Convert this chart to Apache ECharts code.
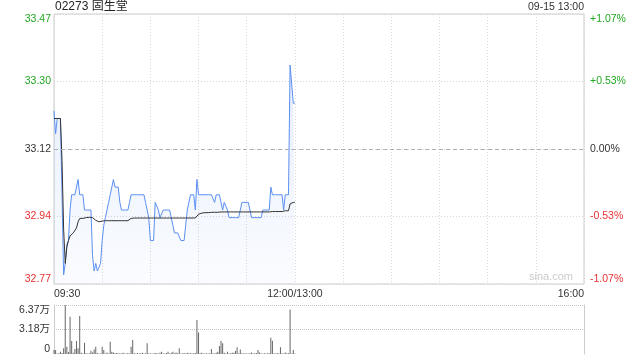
<!DOCTYPE html>
<html><head><meta charset="utf-8">
<script src="https://cdn.jsdelivr.net/npm/echarts@6/dist/echarts.min.js"></script>
<style>html,body{margin:0;padding:0;background:#fff}#c{width:640px;height:360px}</style>
</head><body><div id="c"></div>
<script>
// ---- data ----
const titleText = '02273 固生堂';
const stampText = '09-15 13:00';
const prevClose = 33.12;
const yMin = 32.766, yMax = 33.474, yStep = 0.177;
const priceLabels = ['32.77', '32.94', '33.12', '33.30', '33.47'];
const pctLabels = ['-1.07%', '-0.53%', '0.00%', '+0.53%', '+1.07%'];
const volMax = 63700;
const volLabels = ['0', '3.18万', '6.37万'];
const timeLabels = { 0: '09:30', 150: '12:00/13:00', 330: '16:00' };

// one value per minute from 09:30
const price = [
  33.22, 33.16, 33.20, 33.20, 33.20, 33.00, 32.79, 32.82, 32.87, 32.88,
  32.96, 33.00, 33.00, 33.00, 33.00, 33.04, 33.00, 33.00, 33.00, 32.96,
  32.96, 32.96, 32.96, 32.96, 32.84, 32.80, 32.82, 32.80, 32.80, 32.82,
  32.88, 32.92, 32.94, 32.96, 32.98, 33.00, 33.02, 33.04, 33.02, 33.02,
  33.02, 32.98, 32.96, 32.96, 32.96, 32.96, 32.96, 32.98, 33.00, 33.00,
  33.00, 33.00, 33.00, 33.00, 33.00, 33.00, 33.00, 32.98, 32.96, 32.94,
  32.88, 32.88, 32.88, 32.98, 32.98, 32.96, 32.94, 32.94, 32.96, 32.96,
  32.96, 32.96, 32.96, 32.96, 32.92, 32.90, 32.90, 32.90, 32.90, 32.88,
  32.88, 32.88, 32.92, 32.96, 32.98, 33.00, 33.00, 33.00, 32.96, 33.04,
  33.00, 33.00, 33.00, 33.00, 33.00, 33.00, 33.00, 33.00, 33.00, 33.00,
  32.98, 33.00, 33.00, 33.00, 32.98, 32.96, 32.98, 32.98, 32.96, 32.94,
  32.94, 32.94, 32.94, 32.94, 32.94, 32.94, 32.94, 32.98, 32.98, 32.98,
  32.98, 32.98, 32.98, 32.94, 32.94, 32.94, 32.94, 32.94, 32.94, 32.94,
  32.96, 32.96, 32.96, 32.96, 32.96, 33.02, 33.00, 33.00, 33.00, 33.00,
  33.00, 33.00, 33.00, 32.96, 33.00, 33.00, 33.00, 33.34, 33.34, 33.24,
  33.24
];
const avgPrice = [
  33.200, 33.200, 33.200, 33.200, 33.200, 33.090, 32.910, 32.820, 32.863, 32.880,
  32.892, 32.897, 32.900, 32.902, 32.913, 32.929, 32.938, 32.938, 32.938, 32.939,
  32.940, 32.941, 32.941, 32.941, 32.940, 32.938, 32.933, 32.929, 32.929, 32.930,
  32.931, 32.931, 32.932, 32.932, 32.932, 32.932, 32.932, 32.932, 32.932, 32.932,
  32.932, 32.932, 32.932, 32.932, 32.932, 32.932, 32.932, 32.935, 32.938, 32.939,
  32.939, 32.939, 32.939, 32.939, 32.939, 32.939, 32.939, 32.939, 32.939, 32.939,
  32.939, 32.939, 32.939, 32.939, 32.939, 32.939, 32.939, 32.939, 32.939, 32.939,
  32.939, 32.939, 32.939, 32.939, 32.939, 32.939, 32.939, 32.939, 32.939, 32.939,
  32.939, 32.939, 32.939, 32.939, 32.939, 32.939, 32.939, 32.939, 32.939, 32.944,
  32.949, 32.952, 32.952, 32.953, 32.953, 32.953, 32.953, 32.953, 32.954, 32.954,
  32.954, 32.954, 32.954, 32.955, 32.955, 32.955, 32.955, 32.955, 32.955, 32.955,
  32.955, 32.955, 32.955, 32.955, 32.955, 32.955, 32.955, 32.955, 32.955, 32.955,
  32.955, 32.955, 32.955, 32.955, 32.955, 32.955, 32.955, 32.955, 32.955, 32.955,
  32.955, 32.955, 32.955, 32.955, 32.955, 32.956, 32.956, 32.956, 32.956, 32.956,
  32.956, 32.956, 32.956, 32.956, 32.958, 32.958, 32.958, 32.976, 32.978, 32.980,
  32.980
];
const volume = [
  5200, 5200, 600, 900, 3000, 1200, 7400, 63700, 9500, 2500,
  48500, 16900, 1500, 6500, 16900, 7400, 49400, 1500, 800, 14700,
  900, 700, 1000, 4300, 2000, 6000, 9500, 1200, 800, 600,
  9500, 5200, 800, 2000, 700, 16000, 3000, 2000, 900, 1200,
  700, 1000, 600, 1500, 800, 700, 1200, 600, 9500, 18200,
  1000, 800, 1300, 600, 900, 1500, 700, 1100, 13900, 1000,
  700, 800, 600, 1200, 900, 700, 1500, 3000, 800, 600,
  1400, 3000, 700, 1500, 3000, 900, 2000, 1000, 7400, 800,
  600, 1200, 700, 1500, 900, 1000, 700, 1100, 1300, 44200,
  28100, 900, 1500, 800, 700, 1000, 600, 900, 6500, 1000,
  700, 1500, 3000, 10400, 16900, 13900, 1500, 800, 3000, 700,
  900, 1500, 1500, 3900, 8700, 1000, 6000, 900, 700, 1100,
  800, 600, 1000, 2000, 700, 900, 1200, 5200, 2000, 800,
  700, 1000, 600, 900, 1100, 21200, 17300, 900, 700, 1200,
  800, 8700, 1000, 700, 2000, 900, 1100, 58000, 800, 5200,
  600
];

// ---- chart ----
const FONT = 'Arial, "Liberation Sans", "Noto Sans CJK SC", sans-serif';
const GREEN = '#22a822', RED = '#e83232', DARK = '#333';
const labelColors = [RED, RED, DARK, GREEN, GREEN];

const chart = echarts.init(document.getElementById('c'), null, { renderer: 'canvas' });
const option = {
  animation: false,
  textStyle: { fontFamily: FONT },
  grid: [
    { left: 54, right: 56, top: 14, height: 270, show: true, borderColor: '#ccc', borderWidth: 1 },
    { left: 54, right: 56, top: 305, height: 49 }
  ],
  xAxis: [
    {
      gridIndex: 0, type: 'value', min: 0, max: 330, interval: 30,
      axisLine: { show: false }, axisTick: { show: false },
      splitLine: { show: true, lineStyle: { color: '#d8d8d8', type: [1, 2] } },
      axisLabel: {
        show: true, margin: 5, color: DARK, fontSize: 10.5, fontFamily: FONT,
        alignMinLabel: 'left', alignMaxLabel: 'right',
        formatter: v => timeLabels[v] || ''
      }
    },
    {
      gridIndex: 1, type: 'value', min: 0, max: 330, interval: 30,
      axisLine: { show: false }, axisTick: { show: false },
      axisLabel: { show: false }, splitLine: { show: false }
    }
  ],
  yAxis: [
    {
      gridIndex: 0, type: 'value', min: yMin, max: yMax, interval: yStep, position: 'left',
      axisLine: { show: false }, axisTick: { show: false },
      splitLine: { show: true, lineStyle: { color: '#d8d8d8', type: [1, 2] } },
      axisLabel: {
        margin: 3, fontSize: 10.5, fontFamily: FONT,
        verticalAlignMinLabel: 'bottom', verticalAlignMaxLabel: 'top',
        formatter: (v, i) => priceLabels[i],
        color: (v, i) => labelColors[i]
      }
    },
    {
      gridIndex: 0, type: 'value', min: yMin, max: yMax, interval: yStep, position: 'right',
      axisLine: { show: false }, axisTick: { show: false }, splitLine: { show: false },
      axisLabel: {
        margin: 6, fontSize: 10.5, fontFamily: FONT,
        verticalAlignMinLabel: 'bottom', verticalAlignMaxLabel: 'top',
        formatter: (v, i) => pctLabels[i],
        color: (v, i) => labelColors[i]
      }
    },
    {
      gridIndex: 1, type: 'value', min: 0, max: volMax, interval: volMax / 2, position: 'left',
      axisLine: { show: true, lineStyle: { color: '#ccc' } }, axisTick: { show: false },
      splitLine: { show: true, lineStyle: { color: ['rgba(0,0,0,0)', '#c4c4c4', '#c4c4c4'], type: [1, 1] } },
      axisLabel: {
        margin: 4, fontSize: 10.5, fontFamily: FONT, color: DARK,
        verticalAlignMinLabel: 'bottom', verticalAlignMaxLabel: 'top',
        formatter: (v, i) => volLabels[i]
      }
    },
    {
      gridIndex: 1, type: 'value', min: 0, max: volMax, interval: volMax / 2, position: 'right',
      axisLine: { show: true, lineStyle: { color: '#ccc' } }, axisTick: { show: false },
      splitLine: { show: false }, axisLabel: { show: false }
    }
  ],
  graphic: [
    { type: 'text', left: 55, top: 1, style: { text: titleText, font: '12px ' + FONT, fill: '#222' } },
    { type: 'text', right: 56, top: 2, style: { text: stampText, font: '10.5px ' + FONT, fill: DARK } },
    { type: 'text', right: 67, top: 271, style: { text: 'sina.com', font: '11px ' + FONT, fill: '#ccc' } }
  ],
  series: [
    {
      type: 'line', xAxisIndex: 0, yAxisIndex: 0, symbol: 'none', showSymbol: false,
      data: price.map((v, i) => [i, v]),
      lineStyle: { color: '#5b8ff0', width: 1 },
      areaStyle: {
        color: new echarts.graphic.LinearGradient(0, 0, 0, 1, [
          { offset: 0, color: 'rgba(91,143,240,0.22)' },
          { offset: 1, color: 'rgba(91,143,240,0.04)' }
        ])
      },
      markLine: {
        silent: true, symbol: 'none', animation: false,
        label: { show: false },
        lineStyle: { color: '#b0b0b0', type: [4, 3], width: 1 },
        data: [{ yAxis: prevClose }]
      },
      z: 3
    },
    {
      type: 'line', xAxisIndex: 0, yAxisIndex: 0, symbol: 'none', showSymbol: false,
      data: avgPrice.map((v, i) => [i, v]),
      lineStyle: { color: '#333', width: 1 },
      z: 4
    },
    {
      type: 'bar', xAxisIndex: 1, yAxisIndex: 2, barWidth: 1,
      data: volume.map((v, i) => [i, v]),
      itemStyle: { color: '#666' }
    }
  ]
};
chart.setOption(option);
</script>
</body></html>
